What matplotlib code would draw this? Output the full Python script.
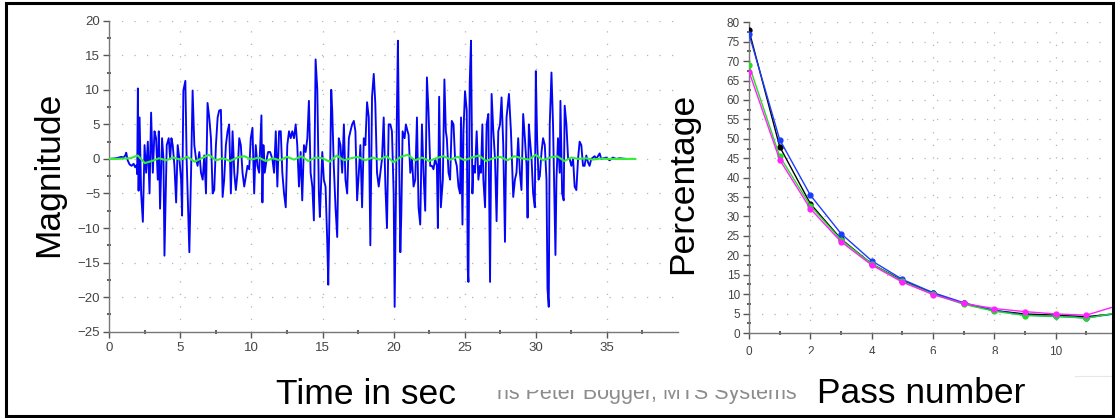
import numpy as np
import matplotlib
matplotlib.use("Agg")
import matplotlib.pyplot as plt
from matplotlib.patches import Rectangle
from matplotlib.lines import Line2D

plt.rcParams['font.family'] = ['Liberation Sans', 'DejaVu Sans']

# ---- left panel: time signal (seconds, magnitude) ----
blue_t = [0.00, 0.49, 0.84, 1.00, 1.12, 1.19, 1.29, 1.43, 1.57, 1.71, 1.82, 1.92, 1.96,
          2.01, 2.06, 2.13, 2.24, 2.36, 2.48, 2.59, 2.71, 2.83, 2.94, 3.06, 3.18, 3.29,
          3.41, 3.48, 3.57, 3.71, 3.81, 3.88, 3.95, 4.04, 4.18, 4.28, 4.37, 4.46, 4.58,
          4.70, 4.81, 4.93, 5.05, 5.12, 5.21, 5.35, 5.44, 5.51, 5.63, 5.75, 5.86, 5.98,
          6.10, 6.21, 6.33, 6.45, 6.57, 6.68, 6.80, 6.91, 7.03, 7.15, 7.27, 7.38, 7.50,
          7.62, 7.73, 7.85, 7.97, 8.08, 8.20, 8.32, 8.43, 8.55, 8.67, 8.79, 8.90, 9.02,
          9.14, 9.25, 9.37, 9.49,
          9.72, 9.84, 9.95, 10.07, 10.19, 10.30, 10.42, 10.54, 10.70, 10.77, 10.84, 10.93,
          11.07, 11.17, 11.31, 11.47, 11.59, 11.71, 11.82, 11.94, 12.06, 12.17, 12.29, 12.41,
          12.52, 12.64, 12.76, 12.87, 12.99, 13.11, 13.22, 13.34, 13.46, 13.57, 13.69, 13.81,
          13.93, 14.04, 14.16, 14.28, 14.39, 14.51, 14.63, 14.74, 14.81, 14.98, 15.09, 15.21,
          15.33, 15.40, 15.51, 15.61, 15.68, 15.79, 15.91, 16.03, 16.14, 16.26, 16.38, 16.50,
          16.61, 16.73, 16.85, 16.96, 17.08, 17.20, 17.31, 17.43, 17.55, 17.66, 17.78, 17.90,
          18.01, 18.13, 18.25, 18.36, 18.48, 18.60, 18.71, 18.83, 18.95,
          19.18, 19.30, 19.42, 19.53, 19.65, 19.77, 19.88, 20.00, 20.07, 20.16, 20.23, 20.30,
          20.40, 20.47, 20.54, 20.63, 20.77, 20.86, 20.98, 21.05, 21.17, 21.29, 21.40, 21.52,
          21.64, 21.75, 21.87, 21.99, 22.10, 22.22, 22.34, 22.45, 22.57, 22.69, 22.80, 22.92,
          23.04, 23.11, 23.20, 23.32, 23.46, 23.57, 23.67, 23.74, 23.86, 23.97, 24.09, 24.21,
          24.32, 24.44, 24.56, 24.67, 24.74, 24.84, 24.91, 25.02, 25.14, 25.21, 25.26, 25.35,
          25.44, 25.54, 25.61, 25.72, 25.84, 25.96, 26.07, 26.14, 26.24, 26.31, 26.43, 26.54,
          26.66, 26.78, 26.89, 27.01, 27.13, 27.24, 27.36, 27.48, 27.59, 27.71, 27.83, 27.94,
          28.11, 28.25, 28.41,
          28.53, 28.64, 28.76, 28.88, 28.99, 29.11, 29.23, 29.35, 29.42, 29.51, 29.58, 29.70,
          29.81, 29.93, 30.00, 30.09, 30.19, 30.28, 30.40, 30.51, 30.63, 30.75, 30.82, 30.91,
          30.98, 31.10, 31.21, 31.28, 31.38, 31.45, 31.56, 31.68, 31.73, 31.85, 31.96, 32.03,
          32.15, 32.27, 32.38, 32.50, 32.62, 32.73, 32.85, 32.97, 33.08, 33.20, 33.32, 33.43,
          33.55, 33.67, 33.78, 33.90, 34.14, 34.25, 34.49, 34.60, 34.95, 35.19, 35.42, 35.65,
          35.89, 36.35]
blue_v = [0.0, 0.1, 0.3, 0.2, 0.5, 0.9, -0.2, -0.8, -1.0, -0.7, -1.2, -0.9, -2.2,
          10.2, -4.6, 6.0, -5.0, -9.1, 2.0, -2.0, 2.5, -5.0, 6.7, -2.0, 4.0, 3.0,
          -3.0, 4.0, -7.2, 3.0, 0.0, -14.0, -7.0, 2.0, 3.0, 0.0, 3.0, 2.0, -1.0,
          -6.3, 2.0, 0.0, -3.0, -8.2, 9.9, 11.3, 0.0, -5.0, -13.5, -2.0, 9.9, 2.0,
          0.0, -1.0, 1.0, -2.0, -3.0, 0.5, -5.0, 8.1, 6.0, 3.0, -5.0, -4.5, 2.0,
          6.0, 7.0, 7.1, -5.5, -3.0, 2.0, 4.0, 5.0, -5.0, 4.0, -2.0, -4.5, -2.0,
          3.0, 2.0, -2.0, -4.0,
          -1.0, -1.5, 3.0, 4.5, -5.0, 2.0, -1.0, -2.0, 6.3, -6.3, 2.0, -2.0,
          0.0, 1.0, 1.0, 0.0, -2.0, 4.0, -4.0, 4.0, 4.0, -2.0, -5.0, -7.0,
          2.0, 4.0, 3.0, 4.0, 3.0, 5.0, 2.0, -4.0, 1.0, -6.0, 2.0, 1.0,
          3.0, 8.4, -2.0, -4.0, -8.9, 14.4, 10.0, -5.0, -8.4, 1.0, -3.0, -4.0,
          -12.0, -18.2, -5.0, 10.0, 7.0, -1.0, -7.0, -11.3, 3.0, 2.0, -2.0, 5.0,
          -3.0, -5.0, 3.0, 4.0, 5.0, 5.5, 4.0, -6.0, -2.0, 2.0, -7.0, 3.0,
          2.0, 8.2, 6.0, -12.5, 9.0, 12.3, 8.0, -2.0, -4.0,
          0.0, 6.0, -4.0, -10.0, 5.0, 5.0, 4.0, -5.0, -21.4, -5.0, 7.0, 17.1,
          -2.0, -13.5, -8.0, 4.0, 3.0, 5.0, 4.0, 3.5, -2.0, 0.0, -4.0, -3.0,
          6.0, -7.0, -9.5, 5.0, -2.0, -7.5, 11.8, 7.0, -1.0, -1.0, -1.5, 0.0,
          -1.0, -10.0, 9.0, -7.0, -3.0, 11.5, 4.0, 3.0, -2.0, -3.0, 5.5, 5.0,
          0.0, -1.0, -4.0, -5.0, 6.0, -9.5, 4.0, 9.8, 7.0, -16.0, -17.8, 11.0,
          17.1, -5.0, -1.0, -2.0, 4.0, -3.0, -1.0, -2.0, 5.0, -3.0, -7.0, 5.0,
          6.5, -17.8, 9.4, 4.0, 0.0, -9.0, 4.0, 5.0, 8.9, 2.0, -12.0, 6.0,
          9.4, 4.0, -5.5,
          -3.0, -2.0, 3.0, -2.0, -4.5, 6.5, 3.0, -1.0, -8.5, 5.0, 3.0, 0.0,
          -5.0, -7.0, 12.7, 3.0, -3.0, -2.5, 1.0, 3.0, 2.0, -3.0, -18.8, -21.4,
          5.0, 12.5, 5.0, -3.0, -13.9, -3.0, 3.0, -2.0, 8.4, -5.0, -6.0, 7.7,
          5.0, 0.0, 0.0, -1.0, 0.0, -4.0, -4.5, 0.0, 2.5, 2.0, -1.0, -1.0,
          0.5, -0.5, -1.0, 0.0, 0.4, 0.0, 0.8, 0.0, 0.2, -0.2, 0.2, 0.0,
          0.1, 0.0]

green_v = [0, 0, 0.05, 0.1, 0.5, -0.6, -0.3, 0.1, -0.2, 0.2, -0.1, 0.3, -0.4, 0.1, 0.6,
           -0.2, 0.1, -0.3, 0.2, 0.4, -0.1, 0.2, -0.3, 0.1, -0.2, 0.3, -0.1, 0.4, -0.3, 0.2,
           0.1, -0.4, 0.5, -0.2, 0.1, 0.3, -0.2, 0.2, -0.1, 0.4, -0.5, 0.3, 0.6, -0.2, 0.2,
           -0.3, 0.1, 0.4, -0.1, 0.3, -0.2, 0.2, 0.5, -0.3, 0.1, 0.3, -0.2, 0.4, 0.1, -0.1,
           0.6, -0.2, 0.2, 0.4, -0.3, 0.2, 0.0, 0.1, -0.1, 0.05, 0, 0, 0, 0, 0]
green_t = np.arange(len(green_v)) * 0.5

# ---- right panel: percentage per pass ----
passes = np.arange(13)
pct_black = [77.9, 48.0, 33.3, 24.2, 17.8, 13.5, 10.2, 7.6, 5.8, 4.9, 4.6, 4.2, 5.0]
pct_blue = [77.0, 49.8, 35.5, 25.6, 18.6, 13.8, 10.4, 7.8, 5.8, 4.6, 4.3, 3.9, 5.0]
pct_green = [69.0, 45.5, 32.8, 24.0, 17.8, 13.3, 10.0, 7.4, 5.6, 4.5, 4.3, 3.8, 5.2]
pct_magenta = [67.3, 44.6, 32.0, 23.5, 17.5, 13.1, 9.9, 7.6, 6.3, 5.5, 4.9, 4.6, 7.0]

W, H = 1115, 418
fig = plt.figure(figsize=(W / 100, H / 100), dpi=100)


def box(x0, y_top, x1, y_bot):
    return [x0 / W, 1 - y_bot / H, (x1 - x0) / W, (y_bot - y_top) / H]


grid_kw = dict(color="#b4b4b4", linestyle=(0, (1, 9)), linewidth=0.9)


def style(ax, fs, pad):
    for s in ["top", "right"]:
        ax.spines[s].set_visible(False)
    for s in ["left", "bottom"]:
        ax.spines[s].set_color("#777777")
        ax.spines[s].set_linewidth(1.0)
    ax.tick_params(which="major", direction="out", length=4.5, width=1.0,
                   color="#555555", labelsize=fs, labelcolor="#444444", pad=2)
    ax.tick_params(axis="x", which="major", pad=pad)
    ax.tick_params(which="minor", direction="inout", length=3, width=1.2,
                   color="#444444")
    ax.grid(True, which="major", **grid_kw)
    ax.set_axisbelow(True)


# left
ax1 = fig.add_axes(box(109.3, 20.7, 678, 331.7))
ax1.plot(blue_t, blue_v, color="#0505f5", lw=1.35, zorder=3)
ax1.plot(green_t, green_v, color="#33ee33", lw=1.5, zorder=4)
ax1.set_xlim(0, 40)
ax1.set_ylim(-25, 20)
ax1.set_xticks(np.arange(0, 36, 5))
ax1.set_xticks(np.arange(2.5, 40, 5), minor=True)
ax1.set_yticks(np.arange(-25, 21, 5))
ax1.set_yticks(np.arange(-22.5, 20, 5), minor=True)
style(ax1, 9.5, 3)

# right
ax2 = fig.add_axes(box(749, 22.3, 749 + 12.5 * 30.67, 333.0))
ax2.plot(passes, pct_black, "-o", color="black", lw=1.0, ms=3.5, zorder=3)
ax2.plot(passes, pct_blue, "-o", color="#1a3cff", lw=1.0, ms=3.5, zorder=3)
ax2.plot(passes, pct_green, "-o", color="#22dd22", lw=1.0, ms=3.5, zorder=4)
ax2.plot(passes, pct_magenta, "-o", color="#ff22ff", lw=1.0, ms=3.5, zorder=5)
ax2.set_xlim(0, 12.5)
ax2.set_ylim(0, 80)
ax2.set_xticks(np.arange(0, 13, 2))
ax2.set_xticks(np.arange(1, 13, 2), minor=True)
ax2.set_yticks(np.arange(0, 81, 5))
ax2.set_yticks(np.arange(2.5, 80, 5), minor=True)
style(ax2, 8.5, 5)

# axis titles
big = 25.5
fig.text(58 / W, 1 - 174 / H, "Magnitude", rotation=90, rotation_mode="anchor",
         ha="center", va="baseline", fontsize=big)
fig.text(692 / W, 1 - 183 / H, "Percentage", rotation=90, rotation_mode="anchor",
         ha="center", va="baseline", fontsize=big)
fig.text(366 / W, 1 - 404 / H, "Time in sec", ha="center", va="baseline", fontsize=big)

# partly hidden credit line
fig.text(497 / W, 1 - 399 / H, "ns Peter Bogger, MTS Systems", ha="left",
         va="baseline", fontsize=15.5, color="#8c8c8c", zorder=2)
fig.patches.append(Rectangle((480 / W, 1 - 390 / H), 330 / W, 22 / H,
                             transform=fig.transFigure, facecolor="white",
                             edgecolor="none", zorder=5))
fig.patches.append(Rectangle((800 / W, 1 - 376 / H), 240 / W, 22.5 / H,
                             transform=fig.transFigure, facecolor="white",
                             edgecolor="none", zorder=5))
fig.lines.append(Line2D([705 / W, 798 / W], [1 - 376 / H, 1 - 376 / H],
                        transform=fig.transFigure, color="#e6e6e6", lw=0.8))
fig.lines.append(Line2D([1075 / W, 1112 / W], [1 - 376 / H, 1 - 376 / H],
                        transform=fig.transFigure, color="#e6e6e6", lw=0.8))
fig.text(921 / W, 1 - 403 / H, "Pass number", ha="center", va="baseline",
         fontsize=big, zorder=6)

# outer frame
fig.patches.append(Rectangle((6 / W, 1 - 416 / H), 1107 / W, 413 / H,
                             transform=fig.transFigure, facecolor="none",
                             edgecolor="black", lw=2.2, zorder=10))

fig.savefig("out.png", dpi=100)
